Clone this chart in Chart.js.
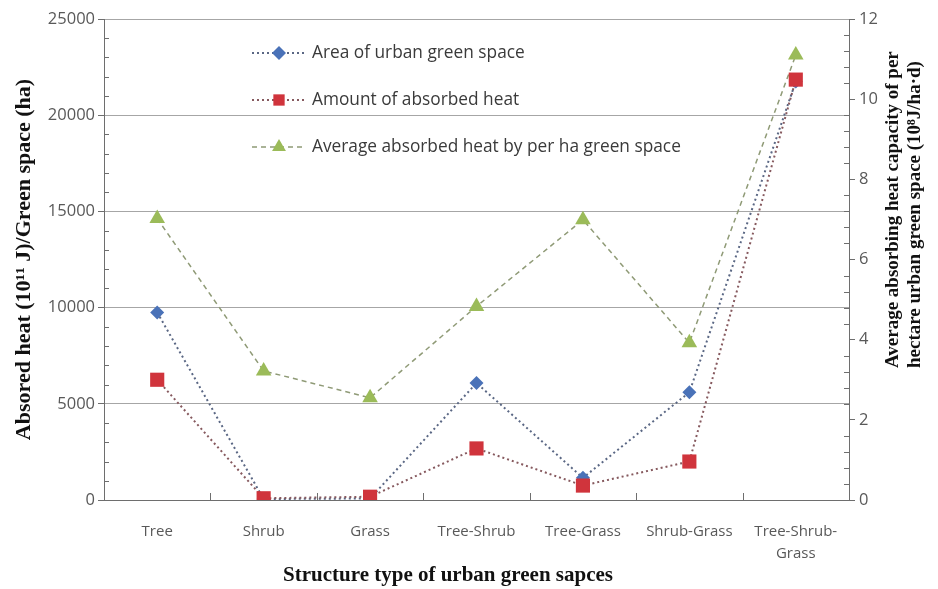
<!DOCTYPE html>
<html>
<head>
    <meta charset="UTF-8">
    <title>Structure type of urban green spaces</title>
    <script src="https://cdn.jsdelivr.net/npm/chart.js"></script>
    <style>
        body { margin: 0; background: #fff; }
        #wrap { width: 938px; height: 589px; position: relative; }
    </style>
</head>
<body>
    <div id="wrap"><canvas id="heatChart"></canvas></div>

    <script>
        // data
        const categories = ['Tree', 'Shrub', 'Grass', 'Tree-Shrub', 'Tree-Grass', 'Shrub-Grass', ['Tree-Shrub-', 'Grass']];
        const greenArea = [9750, 50, 80, 6080, 1150, 5600, 21750];
        const absorbedHeat = [6250, 90, 170, 2680, 750, 2000, 21850];
        const avgHeat = [7.02, 3.22, 2.55, 4.83, 6.99, 3.92, 11.1];

        const leftTicks = [0, 5000, 10000, 15000, 20000, 25000];
        const rightTicks = [0, 2, 4, 6, 8, 10, 12];

        const seriesNames = [
            'Area of urban green space',
            'Amount of absorbed heat',
            'Average absorbed heat by per ha green space'
        ];

        const axisGray = '#6e6e6e';
        const tickFont = { family: 'Open Sans', size: 16.5 };

        // small inward tick marks (minor on y axes, category borders on x)
        const innerTicks = {
            id: 'innerTicks',
            afterDraw(chart) {
                const ctx = chart.ctx;
                const area = chart.chartArea;
                ctx.save();
                ctx.strokeStyle = axisGray;
                ctx.lineWidth = 1;
                ctx.beginPath();
                const y = chart.scales.y, y1 = chart.scales.y1, x = chart.scales.x;
                for (let v = 0; v <= 25000; v += 1000) {
                    if (v % 5000 === 0) continue;
                    const py = Math.round(y.getPixelForValue(v)) + 0.5;
                    ctx.moveTo(area.left, py);
                    ctx.lineTo(area.left + 5, py);
                }
                for (let k = 0; k <= 30; k++) {
                    if (k % 5 === 0) continue;
                    const py = Math.round(y1.getPixelForValue(k * 0.4)) + 0.5;
                    ctx.moveTo(area.right, py);
                    ctx.lineTo(area.right - 5, py);
                }
                for (let i = 1; i < categories.length; i++) {
                    const px = Math.round((x.getPixelForValue(i - 1) + x.getPixelForValue(i)) / 2) + 0.5;
                    ctx.moveTo(px, area.bottom);
                    ctx.lineTo(px, area.bottom - 7);
                }
                ctx.stroke();
                ctx.restore();
            }
        };

        // legend inside the plot, stacked like the original
        const innerLegend = {
            id: 'innerLegend',
            afterDraw(chart) {
                const ctx = chart.ctx;
                ctx.save();
                chart.data.datasets.forEach((ds, i) => {
                    const yy = 53 + i * 47;
                    ctx.strokeStyle = ds.borderColor;
                    ctx.lineWidth = ds.borderWidth;
                    ctx.setLineDash(ds.borderDash);
                    ctx.beginPath();
                    ctx.moveTo(252, yy);
                    ctx.lineTo(306, yy);
                    ctx.stroke();
                    ctx.setLineDash([]);
                    ctx.fillStyle = ds.pointBackgroundColor;
                    Chart.helpers.drawPoint(ctx, {
                        pointStyle: ds.pointStyle,
                        radius: Math.min(ds.pointRadius, 8),
                        rotation: 0,
                        borderWidth: 0
                    }, 279, yy);
                    ctx.fillStyle = '#3a3a3a';
                    ctx.font = '17.3px "Open Sans"';
                    ctx.textBaseline = 'middle';
                    ctx.textAlign = 'left';
                    ctx.fillText(ds.label, 312, yy);
                });
                ctx.restore();
            }
        };

        // right axis title (bottom-to-top) and x title, placed as in the original
        const extraTitles = {
            id: 'extraTitles',
            afterDraw(chart) {
                const ctx = chart.ctx;
                ctx.save();
                ctx.fillStyle = '#111';
                ctx.textBaseline = 'middle';
                ctx.font = 'bold 21px "Liberation Serif"';
                ctx.textAlign = 'center';
                ctx.fillText('Structure type of urban green sapces', 448, 576);
                ctx.font = 'bold 19px "Liberation Serif"';
                ctx.textAlign = 'left';
                ctx.translate(893, 368);
                ctx.rotate(-Math.PI / 2);
                ctx.fillText('Average absorbing heat capacity of per', 0, 0);
                ctx.fillText('hectare urban green space (10\u2078J/ha\u00b7d)', 0, 22);
                ctx.restore();
            }
        };

        const ctx = document.getElementById('heatChart').getContext('2d');
        new Chart(ctx, {
            type: 'line',
            data: {
                labels: categories,
                datasets: [
                    {
                        label: seriesNames[0],
                        data: greenArea,
                        yAxisID: 'y',
                        borderColor: '#5a6784',
                        borderWidth: 2,
                        borderDash: [2, 3],
                        pointStyle: 'rectRot',
                        pointRadius: 7,
                        pointBackgroundColor: '#4a72b8',
                        pointBorderWidth: 0,
                        order: 1
                    },
                    {
                        label: seriesNames[1],
                        data: absorbedHeat,
                        yAxisID: 'y',
                        borderColor: '#86595e',
                        borderWidth: 2,
                        borderDash: [2, 3],
                        pointStyle: 'rect',
                        pointRadius: 10,
                        pointBackgroundColor: '#d0343c',
                        pointBorderWidth: 0,
                        order: 0
                    },
                    {
                        label: seriesNames[2],
                        data: avgHeat,
                        yAxisID: 'y1',
                        borderColor: '#8f9a76',
                        borderWidth: 1.5,
                        borderDash: [5, 4],
                        pointStyle: 'triangle',
                        pointRadius: 9,
                        pointBackgroundColor: '#9bbb59',
                        pointBorderWidth: 0,
                        order: 2
                    }
                ]
            },
            options: {
                responsive: true,
                maintainAspectRatio: false,
                animation: false,
                layout: { padding: { top: 19, bottom: 2 } },
                plugins: {
                    legend: { display: false },
                    tooltip: { enabled: false }
                },
                scales: {
                    x: {
                        offset: true,
                        border: { color: axisGray },
                        grid: { display: false },
                        ticks: {
                            color: '#595959',
                            font: { family: 'Open Sans', size: 15, lineHeight: 1.5 },
                            padding: 12,
                            maxRotation: 0,
                            autoSkip: false
                        },
                        afterFit: s => { s.height = 87; }
                    },
                    y: {
                        position: 'left',
                        min: 0,
                        max: 25000,
                        afterBuildTicks: s => { s.ticks = leftTicks.map(v => ({ value: v })); },
                        border: { color: axisGray },
                        grid: { color: '#a6a6a6', tickColor: axisGray, tickLength: 6 },
                        ticks: { color: '#595959', font: tickFont, padding: 3, callback: v => String(v) },
                        title: {
                            display: true,
                            text: 'Absored heat (10\u00b9\u00b9 J)/Green space (ha)',
                            color: '#111',
                            font: { family: 'Liberation Serif', size: 22, weight: 'bold' },
                            padding: { top: 11, bottom: 0 }
                        },
                        afterFit: s => { s.width = 104; }
                    },
                    y1: {
                        position: 'right',
                        min: 0,
                        max: 12,
                        afterBuildTicks: s => { s.ticks = rightTicks.map(v => ({ value: v })); },
                        border: { color: axisGray },
                        grid: { drawOnChartArea: false, tickColor: axisGray, tickLength: 6 },
                        ticks: { color: '#595959', font: tickFont, padding: 4, callback: v => String(v) },
                        afterFit: s => { s.width = 89; }
                    }
                }
            },
            plugins: [innerTicks, innerLegend, extraTitles]
        });
    </script>
</body>
</html>
